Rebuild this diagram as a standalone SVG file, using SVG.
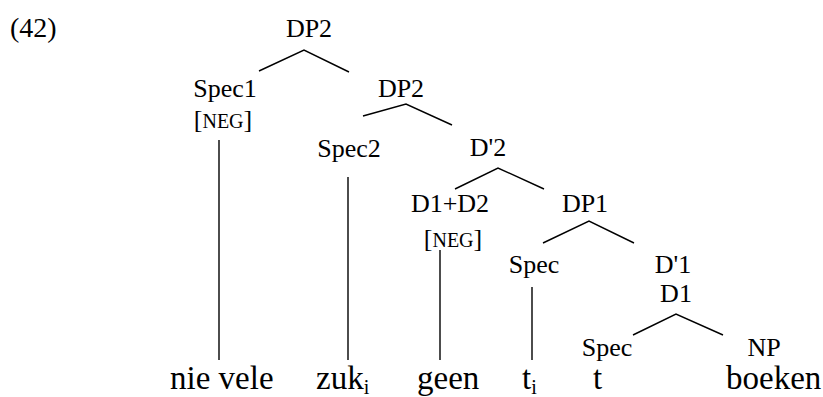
<svg xmlns="http://www.w3.org/2000/svg" width="823" height="397" viewBox="0 0 823 397">
<style>
  .t { font-family: 'Liberation Serif', 'DejaVu Serif', serif; fill: #000; }
  .lbl { font-size: 26px; text-anchor: middle; }
  .word { font-size: 33px; }
  .sc { font-size: 20px; }
  .sub { font-size: 20px; }
  .edge { stroke: #000; stroke-width: 1.4; fill: none; }
</style>
<rect width="823" height="397" fill="#fff"/>
<g class="t" font-family="Liberation Serif, DejaVu Serif, serif">
<text x="10" y="37" font-size="28">(42)</text>
<g id="connectors">
  <polyline class="edge" points="259,71 304,50 349,72"/>
  <polyline class="edge" points="363,116 406,104 452,125"/>
  <line class="edge" x1="219" y1="140" x2="219" y2="360"/>
  <line class="edge" x1="348" y1="177" x2="348" y2="360"/>
  <polyline class="edge" points="455,189 498,168 544,189"/>
  <line class="edge" x1="440" y1="250" x2="440" y2="360"/>
  <polyline class="edge" points="543,243 589,221 634,243"/>
  <line class="edge" x1="532" y1="287" x2="532" y2="360"/>
  <polyline class="edge" points="633,335 676,314 723,335"/>
</g>
<g id="n-dp2-top"><text class="lbl" x="309" y="37">DP2</text></g>
<g id="n-spec1"><text class="lbl" x="225" y="97">Spec1</text><text class="lbl" x="223" y="128">[<tspan class="sc">NEG</tspan>]</text></g>
<g id="n-dp2"><text class="lbl" x="401" y="97">DP2</text></g>
<g id="n-spec2"><text class="lbl" x="349" y="157">Spec2</text></g>
<g id="n-d2bar"><text class="lbl" x="488" y="156">D'2</text></g>
<g id="n-d1d2"><text class="lbl" x="450" y="212">D1+D2</text><text class="lbl" x="453" y="247">[<tspan class="sc">NEG</tspan>]</text></g>
<g id="n-dp1"><text class="lbl" x="585" y="212">DP1</text></g>
<g id="n-spec"><text class="lbl" x="534" y="273">Spec</text></g>
<g id="n-d1bar"><text class="lbl" x="673" y="273">D'1</text><text class="lbl" x="676" y="302">D1</text></g>
<g id="n-spec-low"><text class="lbl" x="607" y="356">Spec</text></g>
<g id="n-np"><text class="lbl" x="764" y="356">NP</text></g>
<g id="w-nievele"><text class="word" x="170" y="389">nie vele</text></g>
<g id="w-zuk"><text class="word" x="316" y="389">zuk<tspan class="sub" dy="5">i</tspan></text></g>
<g id="w-geen"><text class="word" x="417" y="389">geen</text></g>
<g id="w-ti"><text class="word" x="522" y="389">t<tspan class="sub" dy="5">i</tspan></text></g>
<g id="w-t"><text class="word" x="593" y="389">t</text></g>
<g id="w-boeken"><text class="word" x="726" y="389">boeken</text></g>
</g>
</svg>
